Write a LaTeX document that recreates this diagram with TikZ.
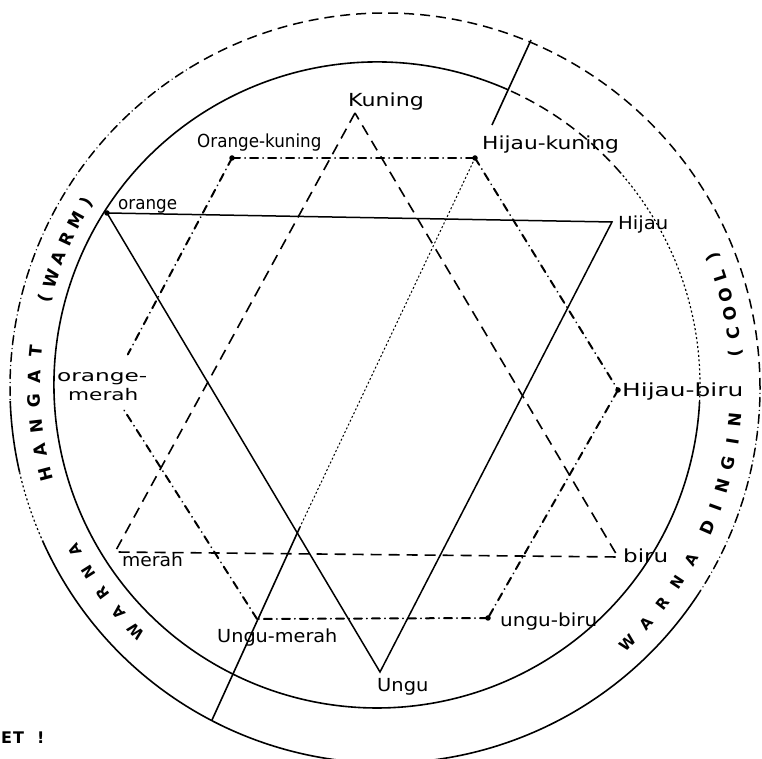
\documentclass[tikz,border=0pt]{standalone}
\usepackage{fontspec}
\setmainfont{DejaVu Sans}
\usepackage{graphicx}
\begin{document}
\tikzset{
  lbl/.style={font=\fontsize{18}{20}\selectfont, inner sep=0pt, anchor=base west},
  ringtxt/.style={font=\bfseries\fontsize{17}{19}\selectfont, inner sep=0pt},
  ringsmall/.style={font=\bfseries\fontsize{15}{17}\selectfont, inner sep=0pt},
  wheel/.style={line width=1.6pt},
  wheeldash/.style={line width=1.5pt, dash pattern=on 10pt off 6pt},
  wheeldashdot/.style={line width=1.5pt, line cap=round, dash pattern=on 9pt off 4pt on 0.01pt off 4pt},
  wheeldot/.style={line width=1.2pt, dash pattern=on 2pt off 2.5pt},
  prim/.style={line width=1.6pt, dash pattern=on 11pt off 7pt},
  sec/.style={line width=1.5pt},
  tert/.style={line width=2pt, line cap=round, dash pattern=on 8pt off 5pt on 0.01pt off 5pt},
  axisline/.style={line width=1.6pt},
  axisdot/.style={line width=1pt, dash pattern=on 2pt off 2.2pt},
  vdot/.style={circle, fill=black, inner sep=0pt, minimum size=5.5pt},
}
\begin{tikzpicture}[x=1pt,y=1pt]
\useasboundingbox (0,0) rectangle (762,759);
\coordinate (oc) at (385,371);
\coordinate (ic) at (377,374);
\coordinate (rc) at (381,373);
% outer circle
\draw[wheel] (oc) ++(204:375) arc[start angle=204,end angle=326,radius=375];
\draw[wheeldashdot] (oc) ++(326:375) arc[start angle=326,end angle=360,radius=375];
\draw[wheeldash] (oc) ++(0:375) arc[start angle=0,end angle=120,radius=375];
\draw[wheeldashdot] (oc) ++(120:375) arc[start angle=120,end angle=182,radius=375];
\draw[wheel] (oc) ++(182:375) arc[start angle=182,end angle=193,radius=375];
\draw[wheeldot] (oc) ++(193:375) arc[start angle=193,end angle=204,radius=375];
% inner circle
\draw[wheel] (ic) ++(66:323) arc[start angle=66,end angle=357,radius=323];
\draw[wheeldash] (ic) ++(41:323) arc[start angle=41,end angle=66,radius=323];
\draw[wheeldot] (ic) ++(-3:323) arc[start angle=-3,end angle=41,radius=323];
% vertices
\coordinate (K) at (355,646);
\coordinate (O) at (107,546);
\coordinate (H) at (612,537);
\coordinate (U) at (380,87);
\coordinate (M) at (115,207);
\coordinate (B) at (618,202);
\coordinate (OK) at (232,601);
\coordinate (HK) at (475,601);
\coordinate (HB) at (618,369);
\coordinate (UB) at (488,141);
\coordinate (UM) at (257,140);
\coordinate (OM) at (110,371);
% warm / cool divider
\coordinate (T1) at (531,719);
\coordinate (T2) at (492,634);
\coordinate (D2) at (300,232);
\coordinate (BB) at (212,39);
\draw[axisline] (T1) -- (T2);
\draw[axisdot] (HK) -- (D2);
\draw[axisline] (D2) -- (BB);
% primary triangle (dashed)
\draw[prim] (K) -- (M) -- (B) -- cycle;
% secondary triangle (solid)
\draw[sec] (O) -- (H) -- (U) -- cycle;
% tertiary hexagon (dash-dot)
\draw[tert] (OK) -- (HK);
\draw[tert] (HK) -- (HB);
\draw[tert] (HB) -- (UB);
\draw[tert] (UB) -- (UM);
\draw[tert, shorten >=26pt] (UM) -- (OM);
\draw[tert, shorten >=38pt] (OK) -- (OM);
% dots
\node[vdot] (dO) at (O) {};
\node[vdot] (dOK) at (OK) {};
\node[vdot] (dHK) at (HK) {};
\node[vdot] (dHB) at (HB) {};
\node[vdot] (dUB) at (UB) {};
% labels
\node[lbl] (tK) at (348,652) {\scalebox{1.23}[1]{Kuning}};
\node[lbl] (tO) at (118,549) {\scalebox{0.93}[1]{orange}};
\node[lbl] (tH) at (618,529) {\scalebox{1.09}[1]{Hijau}};
\node[lbl] (tU) at (377,67) {\scalebox{1.08}[1]{Ungu}};
\node[lbl] (tM) at (122,192) {\scalebox{1.04}[1]{merah}};
\node[lbl] (tB) at (623,196) {\scalebox{1.28}[1]{biru}};
\node[lbl] (tOK) at (197,611) {\scalebox{0.93}[1]{Orange-kuning}};
\node[lbl] (tHK) at (482,609) {\scalebox{1.21}[1]{Hijau-kuning}};
\node[lbl] (tHB) at (622,362) {\scalebox{1.38}[1]{Hijau-biru}};
\node[lbl] (tUB) at (500,132) {\scalebox{1.11}[1]{ungu-biru}};
\node[lbl] (tUM) at (217,116) {\scalebox{1.07}[1]{Ungu-merah}};
\node[lbl, font=\fontsize{16}{18}\selectfont] (tOM1) at (57,377) {\scalebox{1.45}[1]{orange-}};
\node[lbl, font=\fontsize{16}{18}\selectfont] (tOM2) at (68,358) {\scalebox{1.35}[1]{merah}};
% ring text, left (warm)
\foreach \a/\ch [count=\i] in {225.0/W,220.8/A,216.6/R,212.4/N,208.2/A}
  \node[ringsmall, rotate=\a-90] (LW\i) at ([shift={(\a:347)}]rc) {\ch};
\foreach \a/\ch [count=\i] in {194.8/H,190.7/A,186.6/N,182.5/G,178.4/A,174.3/T,165.4/(,161.9/W,158.4/A,155.0/R,151.5/M,148.0/)}
  \node[ringtxt, rotate=\a-90] (L\i) at ([shift={(\a:347)}]rc) {\ch};
% ring text, right (cool)
\foreach \a/\ch [count=\i] in {313.9/W,318.1/A,322.3/R,326.5/N,330.7/A}
  \node[ringsmall, rotate=\a+90] (RW\i) at ([shift={(\a:356)}]rc) {\ch};
\foreach \a/\ch [count=\i] in {336.5/D,340.1/I,343.7/N,347.4/G,351.0/I,354.6/N,5.3/(,8.5/C,11.7/O,14.8/O,18.0/L,21.2/)}
  \node[ringtxt, rotate=\a+90] (R\i) at ([shift={(\a:356)}]rc) {\ch};
% corner text
\node[font=\bfseries\fontsize{16}{18}\selectfont, inner sep=0pt, anchor=base west] (corner) at (1,15) {E\kern1pt T\hspace{13pt}!};
\end{tikzpicture}
\end{document}
